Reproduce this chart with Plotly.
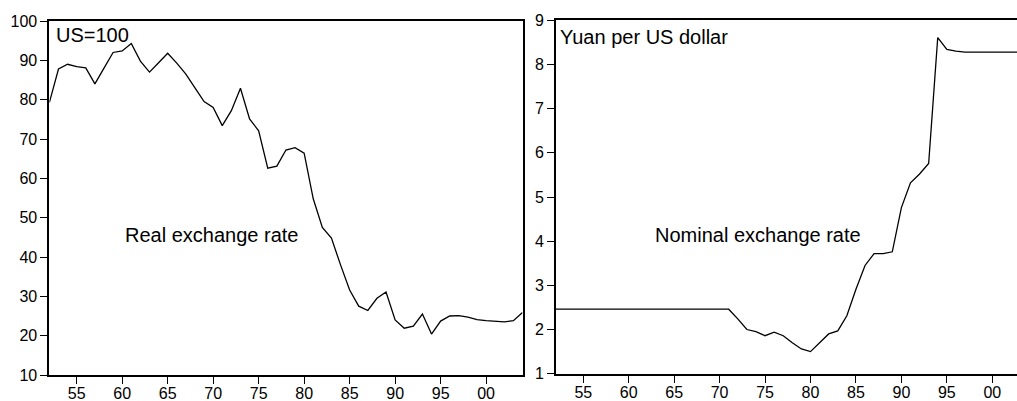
import plotly.graph_objects as go

years = list(range(1952, 2005))

real_rate = [79.3, 87.8, 89.0, 88.4, 88.1, 84.0, 88.0, 92.0, 92.4, 94.3,
             89.8, 87.0, 89.4, 91.8, 89.3, 86.5, 83.0, 79.5, 78.0, 73.4,
             77.2, 82.9, 75.1, 72.1, 62.6, 63.1, 67.2, 67.8, 66.4, 54.8,
             47.5, 44.8, 38.0, 31.6, 27.5, 26.4, 29.5, 31.1, 24.0, 21.9,
             22.4, 25.5, 20.4, 23.7, 25.0, 25.1, 24.7, 24.1, 23.8, 23.7,
             23.5, 23.8, 25.9]

nominal_rate = [2.46] * 20 + [2.24, 2.00, 1.95, 1.86, 1.94, 1.86, 1.70, 1.56,
                              1.50, 1.70, 1.90, 1.97, 2.31, 2.91, 3.45, 3.72,
                              3.72, 3.76, 4.76, 5.32, 5.52, 5.76, 8.61, 8.34,
                              8.30, 8.28, 8.28, 8.28, 8.28, 8.28, 8.28, 8.28,
                              8.28]

x_tickvals = [1955, 1960, 1965, 1970, 1975, 1980, 1985, 1990, 1995, 2000]
x_ticktext = ["55", "60", "65", "70", "75", "80", "85", "90", "95", "00"]
left_yticks = [10, 20, 30, 40, 50, 60, 70, 80, 90, 100]
right_yticks = [1, 2, 3, 4, 5, 6, 7, 8, 9]

W, H = 1017, 401
FONT = "Liberation Sans, Arial, sans-serif"

def px(x):
    return x / W

def py(y):
    return 1 - y / H

fig = go.Figure()
fig.add_trace(go.Scatter(x=years, y=real_rate, mode="lines",
                         line=dict(color="black", width=1.3),
                         xaxis="x", yaxis="y", showlegend=False,
                         hoverinfo="skip"))
fig.add_trace(go.Scatter(x=years, y=nominal_rate, mode="lines",
                         line=dict(color="black", width=1.3),
                         xaxis="x2", yaxis="y2", showlegend=False,
                         hoverinfo="skip"))

axis_common = dict(showgrid=False, zeroline=False, showline=True,
                   linecolor="black", linewidth=2, ticks="outside",
                   ticklen=7, tickwidth=1, tickcolor="black",
                   automargin=False,
                   tickfont=dict(family=FONT, size=16, color="black"))

fig.update_layout(
    width=W, height=H, autosize=False,
    margin=dict(l=0, r=0, t=0, b=0, pad=0),
    paper_bgcolor="white", plot_bgcolor="white",
    xaxis=dict(domain=[px(49.4), px(522.5)], range=[1952, 2004],
               tickvals=x_tickvals, ticktext=x_ticktext, mirror=True,
               anchor="y", ticklabelstandoff=-4, **axis_common),
    yaxis=dict(domain=[py(375), py(21)], range=[10, 100],
               tickvals=left_yticks, mirror=True, anchor="x", **axis_common),
    xaxis2=dict(domain=[px(556), 1.0], range=[1952, 2002.72],
                tickvals=x_tickvals, ticktext=x_ticktext, mirror=True,
                anchor="y2", ticklabelstandoff=-4, **axis_common),
    yaxis2=dict(domain=[py(373.7), py(20.3)], range=[1, 9],
                tickvals=right_yticks, anchor="x2", **axis_common),
)

ann_font = dict(family=FONT, size=20, color="black")
annotations = [
    ("US=100", 54, 35.5),
    ("Real exchange rate", 123, 234.5),
    ("Yuan per US dollar", 557.5, 37),
    ("Nominal exchange rate", 652.5, 234.5),
]
for text, x, y in annotations:
    fig.add_annotation(text=text, xref="paper", yref="paper",
                       x=px(x), y=py(y), xanchor="left", yanchor="middle",
                       showarrow=False, font=ann_font)

fig.write_html("out.html",
               config={"displayModeBar": False, "responsive": False},
               post_script="document.body.style.margin='0';"
                           "document.body.style.overflow='hidden';")
